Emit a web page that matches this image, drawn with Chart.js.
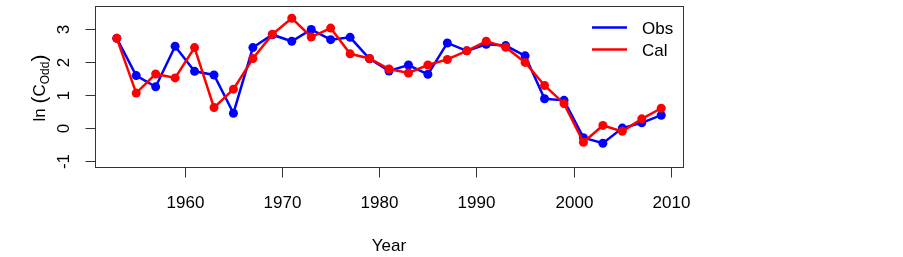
<!DOCTYPE html>
<html>
<head>
<meta charset="utf-8">
<script src="https://cdn.jsdelivr.net/npm/chart.js@4.4.1/dist/chart.umd.min.js"></script>
<style>
html,body{margin:0;padding:0;background:#fff;}
#c{display:block;}
</style>
</head>
<body>
<canvas id="c" width="903" height="257"></canvas>
<script>
const years = [1953,1955,1957,1959,1961,1963,1965,1967,1969,1971,1973,1975,1977,1979,1981,1983,1985,1987,1989,1991,1993,1995,1997,1999,2001,2003,2005,2007,2009];
const obs = [2.71,1.58,1.24,2.47,1.71,1.60,0.44,2.43,2.82,2.62,2.98,2.67,2.74,2.09,1.72,1.90,1.62,2.57,2.33,2.53,2.49,2.18,0.88,0.83,-0.30,-0.47,-0.01,0.15,0.38];
const cal = [2.71,1.05,1.63,1.51,2.43,0.61,1.17,2.10,2.83,3.32,2.75,3.02,2.24,2.10,1.78,1.66,1.90,2.07,2.33,2.62,2.44,1.98,1.28,0.73,-0.44,0.07,-0.11,0.27,0.59];
const xTicks = [1960,1970,1980,1990,2000,2010];
const yTicks = [-1,0,1,2,3];
const seriesNames = ["Obs","Cal"];
const seriesColors = ["#0000ff","#ff0000"];

const FONT = '"Liberation Sans", Arial, sans-serif';

const rAxes = {
  id: 'rAxes',
  afterDraw(chart) {
    const ctx = chart.ctx;
    const a = chart.chartArea;
    const xs = chart.scales.x, ys = chart.scales.y;
    ctx.save();
    ctx.strokeStyle = '#333';
    ctx.lineWidth = 1;
    ctx.strokeRect(Math.round(a.left)+0.5, Math.round(a.top)+0.5, Math.round(a.right-a.left), Math.round(a.bottom-a.top));
    ctx.fillStyle = '#000';
    ctx.font = '17px ' + FONT;
    // x ticks
    ctx.textAlign = 'center';
    ctx.textBaseline = 'alphabetic';
    const xb = Math.round(a.bottom)+0.5;
    xTicks.forEach(v => {
      const px = Math.round(xs.getPixelForValue(v))+0.5;
      ctx.beginPath(); ctx.moveTo(px, xb); ctx.lineTo(px, xb+10); ctx.stroke();
      ctx.fillText(String(v), px, 208);
    });
    // y ticks
    const xl = Math.round(a.left)+0.5;
    yTicks.forEach(v => {
      const py = Math.round(ys.getPixelForValue(v))+0.5;
      ctx.beginPath(); ctx.moveTo(xl, py); ctx.lineTo(xl-10, py); ctx.stroke();
      ctx.save();
      ctx.translate(69, py);
      ctx.rotate(-Math.PI/2);
      ctx.fillText(String(v), 0, 0);
      ctx.restore();
    });
    // x title
    ctx.fillText('Year', (a.left+a.right)/2, 251);
    // y title with subscript
    ctx.save();
    ctx.translate(45, 88);
    ctx.rotate(-Math.PI/2);
    ctx.textAlign = 'left';
    const parts = [
      {t:'ln ', f:'17px '+FONT, dy:0},
      {t:'(', f:'21px '+FONT, dy:1},
      {t:'C', f:'17px '+FONT, dy:0},
      {t:'Odd', f:'12px '+FONT, dy:4},
      {t:')', f:'21px '+FONT, dy:1}
    ];
    let w = 0;
    parts.forEach(p => { ctx.font = p.f; p.w = ctx.measureText(p.t).width; w += p.w; });
    let x = -w/2;
    parts.forEach(p => { ctx.font = p.f; ctx.fillText(p.t, x, p.dy); x += p.w; });
    ctx.restore();
    // legend
    ctx.font = '17px ' + FONT;
    ctx.textAlign = 'left';
    const ly = [27, 49];
    seriesNames.forEach((n, i) => {
      ctx.strokeStyle = seriesColors[i];
      ctx.lineWidth = 2.5;
      ctx.beginPath(); ctx.moveTo(592, ly[i]+0.5); ctx.lineTo(627, ly[i]+0.5); ctx.stroke();
      ctx.fillStyle = '#000';
      ctx.fillText(n, 642, ly[i]+7);
    });
    ctx.restore();
  }
};

new Chart(document.getElementById('c'), {
  type: 'line',
  data: {
    datasets: [
      {
        label: seriesNames[0],
        data: years.map((y,i)=>({x:y, y:obs[i]})),
        borderColor: seriesColors[0], backgroundColor: seriesColors[0],
        borderWidth: 2.5, pointRadius: 4.5, pointBorderWidth: 0, tension: 0, order: 2
      },
      {
        label: seriesNames[1],
        data: years.map((y,i)=>({x:y, y:cal[i]})),
        borderColor: seriesColors[1], backgroundColor: seriesColors[1],
        borderWidth: 2.5, pointRadius: 4.5, pointBorderWidth: 0, tension: 0, order: 1
      }
    ]
  },
  options: {
    responsive: false,
    devicePixelRatio: 1,
    animation: false,
    layout: { padding: { left: 95, right: 220, top: 6, bottom: 90 } },
    plugins: { legend: { display: false }, tooltip: { enabled: false } },
    scales: {
      x: { type: 'linear', display: false, min: 1950.76, max: 2011.24 },
      y: { type: 'linear', display: false, min: -1.19, max: 3.69 }
    }
  },
  plugins: [rAxes]
});
</script>
</body>
</html>
